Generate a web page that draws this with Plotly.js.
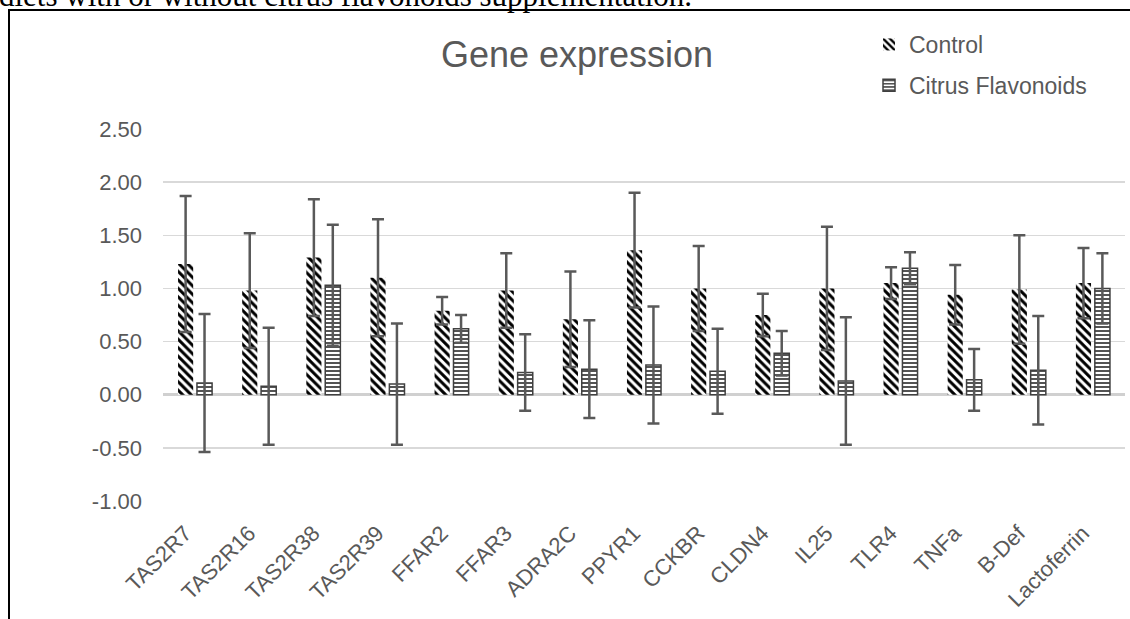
<!DOCTYPE html>
<html>
<head>
<meta charset="utf-8">
<script src="https://cdn.plot.ly/plotly-3.0.1.min.js"></script>
<style>
html,body{margin:0;padding:0;background:#fff;overflow:hidden;}
#chart{width:1130px;height:619px;}
</style>
</head>
<body>
<div id="chart"></div>
<script>
var genes = ["TAS2R7","TAS2R16","TAS2R38","TAS2R39","FFAR2","FFAR3","ADRA2C","PPYR1","CCKBR","CLDN4","IL25","TLR4","TNFa","B-Def","Lactoferrin"];
var controlMean = [1.23,0.98,1.29,1.10,0.79,0.98,0.71,1.36,1.00,0.75,1.00,1.05,0.94,0.99,1.05];
var controlErr  = [0.64,0.54,0.55,0.55,0.13,0.35,0.45,0.54,0.40,0.20,0.58,0.15,0.28,0.51,0.33];
var citrusMean  = [0.11,0.08,1.03,0.10,0.62,0.21,0.24,0.28,0.22,0.39,0.13,1.19,0.14,0.23,1.00];
var citrusErr   = [0.65,0.55,0.57,0.57,0.13,0.36,0.46,0.55,0.40,0.21,0.60,0.15,0.29,0.51,0.33];
var yTicks = [-1.0,-0.5,0.0,0.5,1.0,1.5,2.0,2.5];
var yTickText = ["-1.00","-0.50","0.00","0.50","1.00","1.50","2.00","2.50"];
var caption = "diets with or without citrus flavonoids supplementation.";

var grey = "#595959";
var font = "Liberation Sans, Arial, sans-serif";

var traces = [
  {
    type: "bar", name: "Control", x: genes, y: controlMean, legendgroup: "a",
    marker: {color: "#ffffff", line: {width: 0},
      pattern: {shape: "\\", fgcolor: "#000000", bgcolor: "#ffffff", size: 6, solidity: 0.5}},
    error_y: {type: "data", array: controlErr, visible: true, color: grey, thickness: 2.5, width: 6}
  },
  {
    type: "bar", name: "Citrus Flavonoids", x: genes, y: citrusMean, legendgroup: "b",
    marker: {color: "#ffffff", line: {width: 1.5, color: "#404040"},
      pattern: {shape: "-", fgcolor: "#404040", bgcolor: "#ffffff", size: 4, solidity: 0.45}},
    error_y: {type: "data", array: citrusErr, visible: true, color: grey, thickness: 2.5, width: 6}
  }
];

var L = 163, R = 5, T = 129, B = 118, W = 1130, H = 619;
var pw = W - L - R, ph = H - T - B;
function px(x){ return (x - L) / pw; }
function py(y){ return (H - B - y) / ph; }

var layout = {
  width: W, height: H,
  margin: {l: L, r: R, t: T, b: B, pad: 0},
  paper_bgcolor: "#ffffff", plot_bgcolor: "#ffffff",
  font: {family: font, color: grey, size: 22},
  title: {text: "Gene expression", font: {family: font, size: 36, color: grey},
          xref: "container", yref: "container", x: 577/W, xanchor: "center", y: 1 - 54/H, yanchor: "middle"},
  barmode: "group", bargap: 0.41, bargroupgap: 0.2,
  showlegend: true,
  legend: {x: px(869), y: py(23), xanchor: "left", yanchor: "top", xref: "paper", yref: "paper",
           font: {family: font, size: 23, color: grey}, bgcolor: "rgba(0,0,0,0)",
           tracegroupgap: 8, itemwidth: 30, traceorder: "grouped"},
  xaxis: {type: "category", tickangle: -45, showgrid: false, zeroline: false, showline: false,
          ticks: "", tickfont: {family: font, size: 22, color: grey}, ticklabelstandoff: 14, ticklabelshift: -10},
  yaxis: {range: [-1, 2.5], tickvals: yTicks, ticktext: yTickText, showgrid: true,
          gridcolor: "#d9d9d9", gridwidth: 1.5, zeroline: true, zerolinecolor: "#d0d0d0", zerolinewidth: 2.5,
          showline: false, ticks: "", tickfont: {family: font, size: 22, color: grey}, ticklabelstandoff: 20},
  shapes: [
    {type: "line", xref: "paper", yref: "paper", x0: px(9), x1: px(9), y0: py(10), y1: py(630), line: {color: "#000", width: 2}},
    {type: "line", xref: "paper", yref: "paper", x0: px(8), x1: px(1135), y0: py(10), y1: py(10), line: {color: "#000", width: 2}}
  ],
  annotations: [
    {text: caption, xref: "paper", yref: "paper", x: px(-3), y: py(15), xanchor: "left", yanchor: "bottom",
     showarrow: false, font: {family: "Liberation Serif, Times New Roman, serif", size: 31, color: "#000"}}
  ]
};

Plotly.newPlot("chart", traces, layout, {displayModeBar: false, staticPlot: true});
</script>
</body>
</html>
